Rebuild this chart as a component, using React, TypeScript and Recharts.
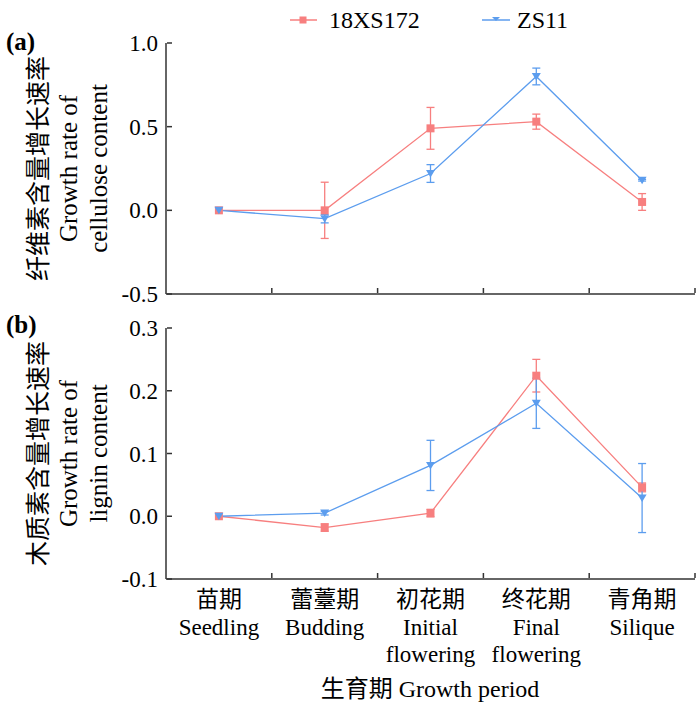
import React from "react";
import { LineChart, Line, XAxis, YAxis, ErrorBar } from "recharts";

const stagesZh = ["苗期", "蕾薹期", "初花期", "终花期", "青角期"];
const stagesEn = [["Seedling"], ["Budding"], ["Initial", "flowering"], ["Final", "flowering"], ["Silique"]];
const stagePos = [0.5, 1.5, 2.5, 3.5, 4.5];
const xTicks = [0.5, 1, 1.5, 2, 2.5, 3, 3.5, 4, 4.5, 5];

// (a) cellulose growth rate
const celluloseXS = [0, 0, 0.49, 0.53, 0.05];
const celluloseXSErr = [0, 0.168, 0.125, 0.045, 0.05];
const celluloseZS = [0, -0.05, 0.22, 0.8, 0.18];
const celluloseZSErr = [0, 0.025, 0.053, 0.05, 0.005];
const celluloseTicks = [-0.5, 0, 0.5, 1.0];

// (b) lignin growth rate
const ligninXS = [0, -0.018, 0.005, 0.224, 0.046];
const ligninXSErr = [0, 0.006, 0.006, 0.026, 0.007];
const ligninZS = [0, 0.005, 0.081, 0.18, 0.029];
const ligninZSErr = [0, 0.003, 0.04, 0.04, 0.055];
const ligninTicks = [-0.1, 0, 0.1, 0.2, 0.3];

const RED = "#F77F7F";
const BLUE = "#5C9DEE";
const AXIS = "#333";
const FONT = '"Liberation Serif", "Noto Sans CJK SC", serif';

const buildRows = (xs: number[], xsErr: number[], zs: number[], zsErr: number[]) =>
  stagePos.map((x, i) => ({ x, xs: xs[i], xsErr: xsErr[i], zs: zs[i], zsErr: zsErr[i] }));

const celluloseRows = buildRows(celluloseXS, celluloseXSErr, celluloseZS, celluloseZSErr);
const ligninRows = buildRows(ligninXS, ligninXSErr, ligninZS, ligninZSErr);

const SquareDot = (props: any) => {
  const { cx, cy } = props;
  if (cx == null || cy == null) return null;
  return <rect x={cx - 4} y={cy - 4} width={8} height={8} fill={RED} />;
};

const TriangleDot = (props: any) => {
  const { cx, cy } = props;
  if (cx == null || cy == null) return null;
  return <polygon points={`${cx - 4.5},${cy - 3.5} ${cx + 4.5},${cy - 3.5} ${cx},${cy + 4}`} fill={BLUE} />;
};

// axis y passed to the tick is the axis line itself (tickSize/tickMargin are 0, height 1)
const makeXTick = (showLabels: boolean) => (props: any) => {
  const { x, y, payload } = props;
  const v = payload.value;
  const base = y - 1;
  if (Number.isInteger(v)) {
    return <line x1={x} x2={x} y1={base} y2={base - 5} stroke={AXIS} strokeWidth={1.5} />;
  }
  if (!showLabels) return <g />;
  const i = Math.floor(v);
  return (
    <g fontFamily={FONT} fontSize={23} fill="#000" textAnchor="middle">
      <text x={x} y={base + 29}>{stagesZh[i]}</text>
      {stagesEn[i].map((t, k) => (
        <text key={k} x={x} y={base + 57 + k * 27}>
          {t}
        </text>
      ))}
    </g>
  );
};

const YTick = (props: any) => {
  const { x, y, payload } = props;
  const base = x + 1;
  return (
    <g>
      <line x1={base} x2={base + 5} y1={y} y2={y} stroke={AXIS} strokeWidth={1.5} />
      <text x={base - 9} y={y} dy="0.35em" textAnchor="end" fontFamily={FONT} fontSize={23} fill="#000">
        {Number(payload.value).toFixed(1)}
      </text>
    </g>
  );
};

const titleX = [38, 68, 98];
const makeYTitle = (lines: string[]) => (props: any) => {
  const { viewBox } = props;
  const cy = viewBox.y + viewBox.height / 2;
  return (
    <g fontFamily={FONT} fontSize={25} fill="#000">
      {lines.map((t, i) => (
        <text
          key={i}
          x={titleX[i]}
          y={cy}
          dy="0.35em"
          textAnchor="middle"
          transform={`rotate(-90 ${titleX[i]} ${cy})`}
        >
          {t}
        </text>
      ))}
    </g>
  );
};

function Panel({
  data,
  domain,
  ticks,
  title,
  height,
  margin,
  showLabels,
}: {
  data: any[];
  domain: [number, number];
  ticks: number[];
  title: string[];
  height: number;
  margin: { top: number; right: number; bottom: number; left: number };
  showLabels: boolean;
}) {
  return (
    <LineChart width={700} height={height} data={data} margin={margin} style={{ overflow: "visible" }}>
      <XAxis
        dataKey="x"
        type="number"
        domain={[0, 5]}
        ticks={xTicks}
        interval={0}
        height={1}
        tickSize={0}
        tickMargin={0}
        tickLine={false}
        axisLine={{ stroke: AXIS, strokeWidth: 1.5 }}
        tick={makeXTick(showLabels)}
      />
      <YAxis
        type="number"
        domain={domain}
        ticks={ticks}
        interval={0}
        width={1}
        tickSize={0}
        tickMargin={0}
        tickLine={false}
        axisLine={{ stroke: AXIS, strokeWidth: 1.5 }}
        tick={YTick}
        label={makeYTitle(title)}
      />
      <Line
        dataKey="xs"
        stroke={RED}
        strokeWidth={1.3}
        dot={SquareDot}
        activeDot={false}
        isAnimationActive={false}
      >
        <ErrorBar dataKey="xsErr" width={4} stroke={RED} strokeWidth={1.3} direction="y" />
      </Line>
      <Line
        dataKey="zs"
        stroke={BLUE}
        strokeWidth={1.3}
        dot={TriangleDot}
        activeDot={false}
        isAnimationActive={false}
      >
        <ErrorBar dataKey="zsErr" width={4} stroke={BLUE} strokeWidth={1.3} direction="y" />
      </Line>
    </LineChart>
  );
}

export default function App() {
  const text = { position: "absolute" as const, fontFamily: FONT, color: "#000", whiteSpace: "nowrap" as const };
  return (
    <div style={{ position: "absolute", left: 0, top: 0, width: 700, height: 705, background: "#fff" }}>
      {/* legend */}
      <svg style={{ position: "absolute", left: 0, top: 0 }} width={700} height={40}>
        <line x1={290} x2={317} y1={20} y2={20} stroke={RED} strokeWidth={1.5} />
        <rect x={299.5} y={16.5} width={7} height={7} fill={RED} />
        <text x={329} y={28} fontFamily={FONT} fontSize={24}>18XS172</text>
        <line x1={482} x2={510} y1={20} y2={20} stroke={BLUE} strokeWidth={1.5} />
        <polygon points="492,17 500,17 496,21" fill={BLUE} />
        <text x={517} y={28} fontFamily={FONT} fontSize={24}>ZS11</text>
      </svg>

      <div style={{ position: "absolute", left: 0, top: 0 }}>
        <Panel
          data={celluloseRows}
          domain={[-0.5, 1]}
          ticks={celluloseTicks}
          title={["纤维素含量增长速率", "Growth rate of", "cellulose content"]}
          height={312}
          margin={{ top: 43, right: 5, bottom: 17, left: 165 }}
          showLabels={false}
        />
      </div>
      <div style={{ position: "absolute", left: 0, top: 312 }}>
        <Panel
          data={ligninRows}
          domain={[-0.1, 0.3]}
          ticks={ligninTicks}
          title={["木质素含量增长速率", "Growth rate of", "lignin content"]}
          height={393}
          margin={{ top: 16, right: 5, bottom: 125, left: 165 }}
          showLabels={true}
        />
      </div>

      <div style={{ ...text, left: 6, top: 28, fontSize: 25, fontWeight: "bold" }}>(a)</div>
      <div style={{ ...text, left: 6, top: 311, fontSize: 25, fontWeight: "bold" }}>(b)</div>
      <div style={{ ...text, left: 0, width: 860, top: 669, fontSize: 24, textAlign: "center" }}>
        生育期 Growth period
      </div>
    </div>
  );
}
